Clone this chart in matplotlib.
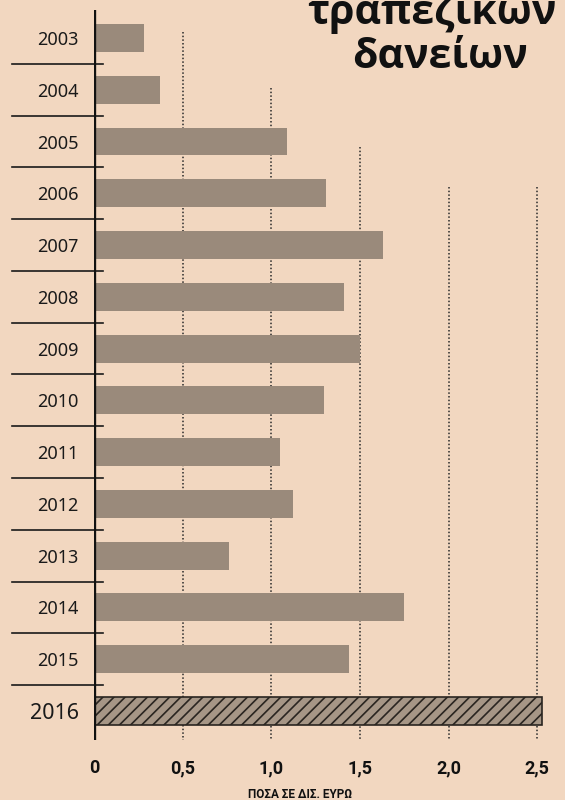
import matplotlib.pyplot as plt

years = ["2003", "2004", "2005", "2006", "2007", "2008", "2009",
         "2010", "2011", "2012", "2013", "2014", "2015", "2016"]
values = [0.28, 0.37, 1.09, 1.31, 1.63, 1.41, 1.50,
          1.30, 1.05, 1.12, 0.76, 1.75, 1.44, 2.53]
xticks = [0, 0.5, 1.0, 1.5, 2.0, 2.5]
xtick_labels = ["0", "0,5", "1,0", "1,5", "2,0", "2,5"]
title_lines = ["τραπεζικών", "δανείων"]
xlabel = "ΠΟΣΑ ΣΕ ΔΙΣ. ΕΥΡΩ"

BG = "#f2d7c0"
BAR = "#9a8a7b"

plt.rcParams["font.family"] = ["Noto Sans", "DejaVu Sans"]
plt.rcParams["hatch.linewidth"] = 1.2

fig = plt.figure(figsize=(5.65, 8.0), dpi=100, facecolor=BG)
ax = fig.add_axes([94 / 565, 60 / 800, 452 / 565, 730 / 800])
ax.set_facecolor(BG)

n = len(years)
ypos = list(range(n))
ax.set_xlim(0, 2.55)
ax.set_ylim(n - 0.5 + 0.06, -0.54)

# dotted guides, they start lower under the title
grid_tops = [-0.12, 0.96, 2.1, 2.88, 2.88]
for x, top in zip(xticks[1:], grid_tops):
    ax.vlines(x, top, n - 0.5 + 0.06, color="#2a2a2a", lw=1.1,
              linestyles=(0, (1, 1.4)), zorder=1)

ax.barh(ypos[:-1], values[:-1], height=0.54, color=BAR, zorder=2)
ax.barh(ypos[-1], values[-1], height=0.54, color="#a69686",
        edgecolor="#2a2520", hatch="///", lw=1.2, zorder=2)

# row separators on the left
for i in range(n - 1):
    ax.plot([-0.465, 0.05], [i + 0.5, i + 0.5], color="#1a1a1a", lw=1.2,
            clip_on=False, zorder=3)

ax.axvline(0, color="#111111", lw=2.4, zorder=4)

for s in ax.spines.values():
    s.set_visible(False)
ax.tick_params(length=0)
ax.set_yticks(ypos)
ax.set_yticklabels(years, fontsize=13, color="#1a1a1a")
ax.get_yticklabels()[-1].set_fontsize(15.5)
ax.tick_params(axis="y", pad=11)
ax.set_xticks(xticks)
ax.set_xticklabels(xtick_labels, fontsize=13, fontweight="bold",
                   family=["Roboto", "DejaVu Sans"], color="#111111")
ax.tick_params(axis="x", pad=14)

fig.text(300 / 565, 1 - 795 / 800, xlabel, ha="center", va="center",
         fontsize=8.5, fontweight="bold", family=["Roboto", "DejaVu Sans"],
         color="#111111")

title_font = ["Open Sans", "DejaVu Sans"]
fig.text(0.985, 1 - 12 / 800, title_lines[0], ha="right", va="center",
         fontsize=29.5, fontweight="bold", family=title_font, color="#111111")
fig.text(0.935, 1 - 57 / 800, title_lines[1], ha="right", va="center",
         fontsize=29.5, fontweight="bold", family=title_font, color="#111111")

fig.savefig("out.png", dpi=100, facecolor=BG)
